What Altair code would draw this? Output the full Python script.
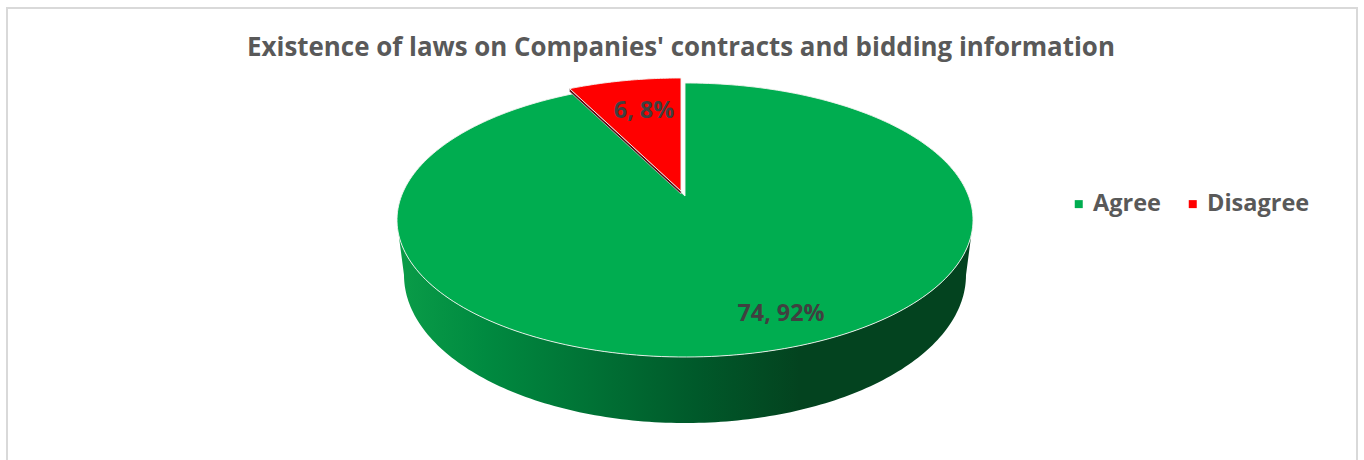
import numpy as np
import altair as alt

# Survey responses
categories = ["Agree", "Disagree"]
counts = [74, 6]
colors = ["#00ad50", "#ff0000"]
title_text = "Existence of laws on Companies' contracts and bidding information"
# Label anchors on the pie's top face, in pie coordinates (x right, y up)
label_x = [96, -41]
label_y = [-94, 109]

FONT = "Open Sans"
TEXT_GREY = "#595959"
LABEL_GREY = "#404040"

# Pie tilt: the unit disc is mapped onto the visible ellipse with a perspective
# transform, so that the disc's centre sits above the ellipse's centre.
RX, RY, CENTRE_SHIFT = 288.0, 137.0, 24.0
k = CENTRE_SHIFT / RY
a = RX * np.sqrt(1 - k ** 2)
DEPTH_Y, RX_LOW, RY_LOW = -55.0, 281.0, 148.0
WALL_JOIN_Y = -15.0
EXPLODE = np.array([-4.0, 5.0])
SLIVER = 3.0


def on_disc(deg, radius=1.0):
    """Project a point of the disc, angle clockwise from 12 o'clock."""
    t = np.radians(deg)
    u, v = radius * np.sin(t), radius * np.cos(t)
    w = 1 + k * v
    return np.column_stack([a * u / w, (RY * v + CENTRE_SHIFT) / w])


def feature(points, category=None):
    pts = [[float(x), float(y)] for x, y in points]
    pts.append(pts[0])
    return {
        "type": "Feature",
        "properties": {"category": category},
        "geometry": {"type": "Polygon", "coordinates": [pts]},
    }


total = sum(counts)
sweep = 360.0 * counts[1] / total
apex = on_disc(np.array([0.0]), 0.0)

# Top faces
agree_rim = on_disc(np.linspace(0, 360 - sweep, 240))
agree_face = np.vstack([apex, agree_rim])
disagree_rim = on_disc(np.linspace(-sweep, 0, 40))
disagree_face = np.vstack([apex, disagree_rim]) + EXPLODE

# Dark cut edge showing along the wedge's left side
tip = disagree_rim[0] + EXPLODE
wedge_apex = apex[0] + EXPLODE
drop = np.array([0.0, -SLIVER])
sliver = np.array([wedge_apex, tip, tip + drop, wedge_apex + drop])

# Outer wall of the pie
s0 = np.arcsin(WALL_JOIN_Y / RY)
s = np.linspace(np.pi - s0, 2 * np.pi + s0, 200)
upper = np.column_stack([RX * np.cos(s), RY * np.sin(s)])
s2 = np.linspace(2 * np.pi, np.pi, 160)
lower = np.column_stack([RX_LOW * np.cos(s2), DEPTH_Y + RY_LOW * np.sin(s2)])
wall = np.vstack([upper, lower])

projection = dict(type="identity", reflectY=True, scale=1, translate=[678, 212])

wall_gradient = alt.Gradient(
    gradient="linear",
    x1=0, x2=1, y1=0, y2=0,
    stops=[
        alt.GradientStop(color="#0a9c48", offset=0.0),
        alt.GradientStop(color="#008a40", offset=0.15),
        alt.GradientStop(color="#007436", offset=0.32),
        alt.GradientStop(color="#00592a", offset=0.52),
        alt.GradientStop(color="#03431f", offset=0.70),
        alt.GradientStop(color="#03431f", offset=1.0),
    ],
)

wall_layer = (
    alt.Chart(alt.Data(values=[feature(wall)]))
    .mark_geoshape(fill=wall_gradient, stroke=None)
    .project(**projection)
)

sliver_layer = (
    alt.Chart(alt.Data(values=[feature(sliver)]))
    .mark_geoshape(fill="#5a0c14", stroke="#c8c8c8", strokeWidth=0.75)
    .project(**projection)
)

color_encoding = alt.Color(
    "properties.category:N",
    scale=alt.Scale(domain=categories, range=colors),
    legend=alt.Legend(
        title=None,
        orient="none",
        legendX=1060,
        legendY=184,
        direction="horizontal",
        columns=2,
        symbolType="square",
        symbolSize=64,
        symbolStrokeWidth=0,
        labelFont=FONT,
        labelFontWeight="bold",
        labelFontSize=23.5,
        labelColor=TEXT_GREY,
        labelOffset=2.5,
        columnPadding=20,
    ),
)


def face_layer(points, category):
    return (
        alt.Chart(alt.Data(values=[feature(points, category)]))
        .mark_geoshape(stroke="#f4f4f0", strokeWidth=0.9)
        .encode(color=color_encoding)
        .project(**projection)
    )


labels = [
    {
        "lon": x,
        "lat": y,
        "label": f"{c}, {round(100 * c / total)}%",
    }
    for c, x, y in zip(counts, label_x, label_y)
]
label_layer = (
    alt.Chart(alt.Data(values=labels))
    .mark_text(font=FONT, fontWeight="bold", fontSize=23.3, color=LABEL_GREY)
    .encode(longitude="lon:Q", latitude="lat:Q", text="label:N")
    .project(**projection)
)

# Chart-area frame; its lower edge runs past the bottom of the page
frame = alt.Chart().mark_rect(fill="transparent", stroke="#d9d9d9", strokeWidth=2).encode(
    x=alt.value(0), x2=alt.value(1350), y=alt.value(0), y2=alt.value(480)
)

chart = (
    alt.layer(
        frame,
        wall_layer,
        face_layer(agree_face, categories[0]),
        sliver_layer,
        face_layer(disagree_face, categories[1]),
        label_layer,
    )
    .properties(
        width=1350,
        height=452,
        padding={"left": 7, "top": 8, "right": 7, "bottom": 0},
        autosize=alt.AutoSizeParams(type="none"),
        background="white",
        title=alt.TitleParams(
            title_text,
            font=FONT,
            fontSize=25.9,
            fontWeight="bold",
            color=TEXT_GREY,
            anchor="middle",
            offset=0,
            dy=55,
            dx=-1,
        ),
    )
    .configure_view(stroke=None)
)

chart.save("out.html", embed_options={"renderer": "svg", "actions": False})
